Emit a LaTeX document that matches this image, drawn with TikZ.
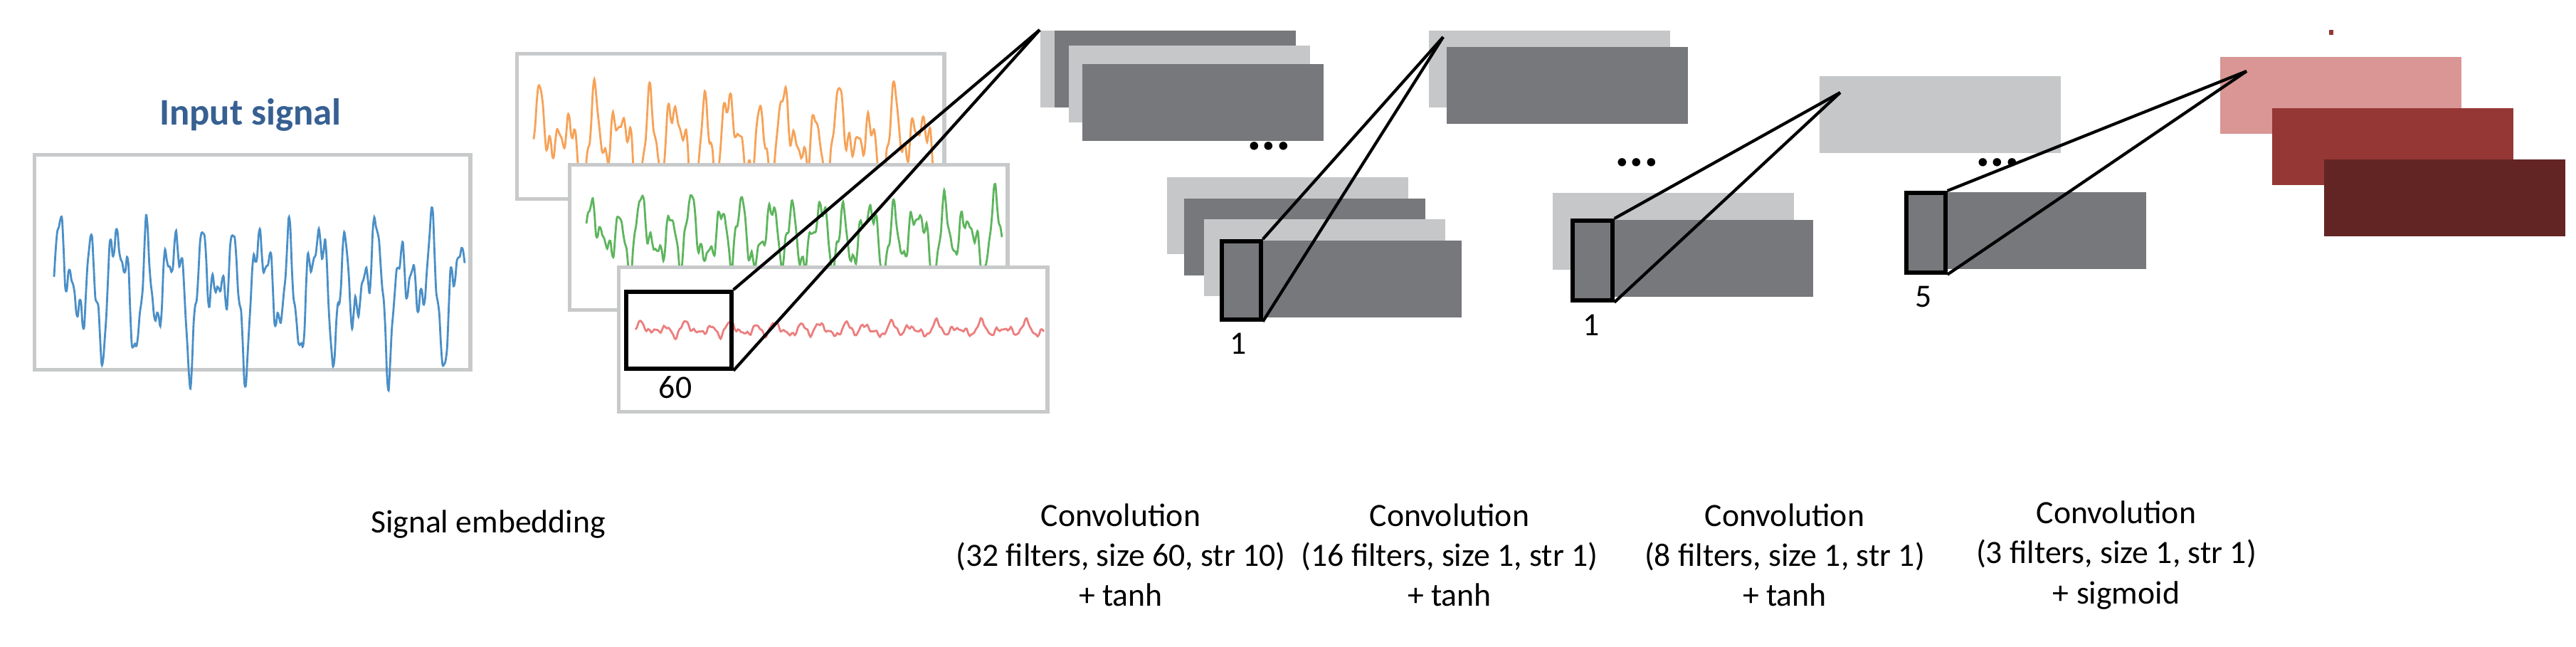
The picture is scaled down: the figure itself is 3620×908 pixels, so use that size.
\documentclass[tikz,border=0pt]{standalone}
\usepackage{fontspec}
\setmainfont{Carlito}
\usetikzlibrary{positioning}
\definecolor{LightMap}{HTML}{C6C7C9}
\definecolor{DarkMap}{HTML}{77787B}
\definecolor{FrameGray}{HTML}{C8C9CA}
\definecolor{TitleBlue}{HTML}{376092}
\definecolor{OutA}{HTML}{D99694}
\definecolor{OutB}{HTML}{953735}
\definecolor{OutC}{HTML}{632523}
\definecolor{SigBlue}{HTML}{4A8FC7}
\definecolor{SigOrange}{HTML}{F7A257}
\definecolor{SigGreen}{HTML}{5DB55D}
\definecolor{SigRed}{HTML}{EC7E7E}
\tikzset{
  fmap/.style={draw=none, inner sep=0, anchor=north west, minimum width=3.39cm, minimum height=1.08cm},
  panel/.style={draw=FrameGray, line width=1.5pt, fill=white, inner sep=0, anchor=north west},
  kernel/.style={draw=black, line width=1.6pt, fill=DarkMap, inner sep=0, anchor=north west},
  cone/.style={line width=1.2pt},
  dots/.style={font=\fontsize{22}{22}\selectfont\bfseries},
  caption/.style={align=center, font=\fontsize{13}{16}\selectfont},
  size/.style={font=\fontsize{13}{15}\selectfont}
}
% wave a b c phase: spiky mix of sines
\newcommand{\wavemix}[4]{(0.55*sin(\x*#1)*sin(\x*#1)*sin(\x*#1)+0.35*sin(\x*#2+#4)*sin(\x*#2+#4)*sin(\x*#2+#4)+0.2*sin(\x*#3))}
\begin{document}
\begin{tikzpicture}[x=0.01cm,y=-0.01cm]
\useasboundingbox (0,0) rectangle (3620,908);

%% input
\node[font=\fontsize{15}{18}\selectfont\bfseries, text=TitleBlue] (title) at (352,161) {Input signal};
\node[panel, minimum width=6.12cm, minimum height=3.02cm] (input) at (46,215) {};
\draw[SigBlue, line width=0.8pt, shift={(76,402)}] plot[domain=0:577, samples=260, smooth]
  (\x,{-140*\wavemix{9}{14.3}{5.1}{40}});

%% embedding
\node[panel, minimum width=6.0cm, minimum height=2.04cm] (embA) at (724,73) {};
\draw[SigOrange, line width=0.8pt, shift={(750,197)}] plot[domain=0:566, samples=260, smooth]
  (\x,{-100*\wavemix{9.4}{13.7}{4.3}{20}});
\node[panel, minimum width=6.15cm, minimum height=2.04cm] (embB) at (798,229) {};
\draw[SigGreen, line width=0.8pt, shift={(824,331)}] plot[domain=0:584, samples=260, smooth]
  (\x,{-75*\wavemix{10.2}{15.1}{5.7}{60}});
\node[panel, minimum width=6.02cm, minimum height=2.03cm] (embC) at (867,373) {};
\draw[SigRed, line width=0.8pt, shift={(893,463)}] plot[domain=0:574, samples=260, smooth]
  (\x,{-15*\wavemix{11.3}{17.2}{6.1}{10}});
\node[draw=black, line width=1.6pt, inner sep=0, anchor=north west, minimum width=1.48cm, minimum height=1.08cm] (win0) at (877,407) {};
\node[size] (k0) at (949,544) {60};

%% layer 1
\node[fmap, fill=LightMap] (m1a) at (1461,42) {};
\node[fmap, fill=DarkMap] (m1b) at (1481,42) {};
\node[fmap, fill=LightMap] (m1c) at (1501,63) {};
\node[fmap, fill=DarkMap] (m1d) at (1520,89) {};
\node[dots] (dots1) at (1783,205) {...};
\node[fmap, fill=LightMap] (n1a) at (1639,248) {};
\node[fmap, fill=DarkMap] (n1b) at (1663,278) {};
\node[fmap, fill=LightMap] (n1c) at (1691,307) {};
\node[fmap, fill=DarkMap] (n1d) at (1714,337) {};
\node[kernel, minimum width=0.55cm, minimum height=1.1cm] (win1) at (1714,336) {};
\node[size] (k1) at (1740,483) {1};
\coordinate (apex0) at (1461,42);
\draw[cone] (win0.north east) -- (apex0);
\draw[cone] (win0.south east) -- (apex0);

%% layer 2
\node[fmap, fill=LightMap] (m2a) at (2007,42) {};
\node[fmap, fill=DarkMap] (m2b) at (2032,65) {};
\node[dots] (dots2) at (2300,228) {...};
\node[fmap, fill=LightMap] (n2a) at (2181,270) {};
\node[fmap, fill=DarkMap] (n2b) at (2208,308) {};
\node[kernel, minimum width=0.56cm, minimum height=1.12cm] (win2) at (2207,307) {};
\node[size] (k2) at (2236,457) {1};
\coordinate (apex1) at (2028,52);
\draw[cone] (win1.north east) -- (apex1);
\draw[cone] (win1.south east) -- (apex1);

%% layer 3
\node[fmap, fill=LightMap] (m3a) at (2556,106) {};
\node[dots] (dots3) at (2807,228) {...};
\node[fmap, fill=DarkMap] (n3a) at (2676,269) {};
\node[kernel, minimum width=0.55cm, minimum height=1.12cm] (win3) at (2676,268) {};
\node[size] (k3) at (2703,417) {5};
\coordinate (apex2) at (2586,130);
\draw[cone] (win2.north east) -- (apex2);
\draw[cone] (win2.south east) -- (apex2);

%% output
\node[fill=OutB, minimum width=0.06cm, minimum height=0.07cm, inner sep=0] (tick) at (3276,45) {};
\node[fmap, fill=OutA] (o1) at (3119,79) {};
\node[fmap, fill=OutB] (o2) at (3192,151) {};
\node[fmap, fill=OutC] (o3) at (3265,223) {};
\coordinate (apex3) at (3157,100);
\draw[cone] (win3.north east) -- (apex3);
\draw[cone] (win3.south east) -- (apex3);

%% captions
\node[caption] (c0) at (686,737) {Signal embedding};
\node[caption] (c1) at (1575,780) {Convolution\\(32 filters, size 60, str 10)\\+ tanh};
\node[caption] (c2) at (2037,780) {Convolution\\(16 filters, size 1, str 1)\\+ tanh};
\node[caption] (c3) at (2508,780) {Convolution\\(8 filters, size 1, str 1)\\+ tanh};
\node[caption] (c4) at (2974,780) {Convolution\\(3 filters, size 1, str 1)\\+ sigmoid};
\end{tikzpicture}
\end{document}
